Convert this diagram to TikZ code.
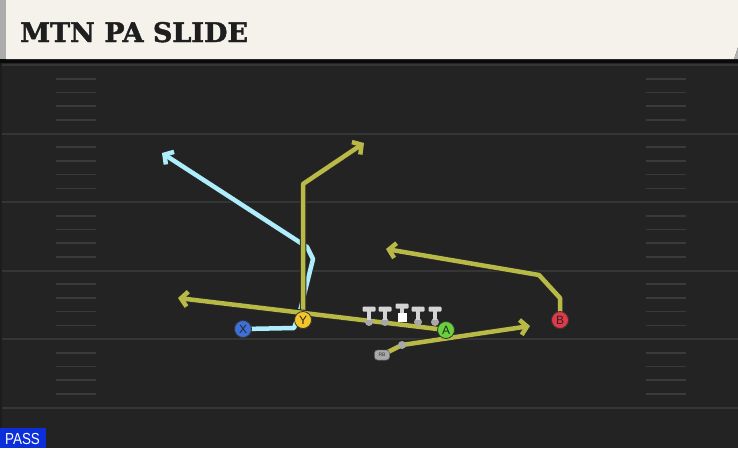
\documentclass[tikz,border=0pt]{standalone}
\usepackage{fontspec}
\setmainfont{Liberation Sans}
\newfontfamily\titlefont{DejaVu Serif}[BoldFeatures={FakeBold=1.6}]
\usetikzlibrary{arrows.meta}
\definecolor{field}{HTML}{232323}
\definecolor{yardline}{HTML}{353535}
\definecolor{hashc}{HTML}{3A3A3A}
\definecolor{header}{HTML}{F4F2EB}
\definecolor{titlec}{HTML}{1E1E1E}
\definecolor{olivec}{HTML}{B8B946}
\definecolor{bluec}{HTML}{AEEDFB}
\definecolor{xblue}{HTML}{3D70D8}
\definecolor{yyellow}{HTML}{F4C52A}
\definecolor{agreen}{HTML}{68D23C}
\definecolor{bred}{HTML}{E0394A}
\definecolor{linec}{HTML}{D4D4D4}
\definecolor{dotc}{HTML}{A8A8A8}
\definecolor{passblue}{HTML}{0B2FD9}
\begin{document}
\begin{tikzpicture}[x=1pt,y=-1pt,
  routeout/.style={draw=black!85, line width=6.5pt, line join=round},
  oliveroute/.style={draw=olivec, line width=4.5pt, line join=round},
  blueroute/.style={draw=bluec, line width=4.5pt, line join=round},
  tipout/.style={-{Straight Barb[length=6.5pt,width=15pt]}},
  player/.style={circle, draw=black!80, line width=0.8pt, minimum size=17pt, inner sep=0pt, font=\fontsize{12}{12}\selectfont, text=black!85},
  rbshape/.style={draw=black!70, fill=dotc, rounded corners=3pt, minimum width=15pt, minimum height=10pt, inner sep=0pt, font=\fontsize{5}{5}\selectfont, text=black!80},
  yard/.style={draw=yardline, line width=2pt},
  hashmark/.style={draw=hashc, line width=1.6pt}]
\useasboundingbox (0,0) rectangle (738,448);
\fill[field] (0,0) rectangle (738,448);
\fill[black!20!field] (0,0) rectangle (2,448);
% yard lines
\foreach \y in {65,133.5,202,270.5,339,407.5}
  \draw[yard] (2,\y) -- (738,\y);
% hash marks
\foreach \y in {65,133.5,202,270.5,339}
  \foreach \k in {1,2,3,4} {
    \draw[hashmark] (56,\y+13.7*\k) -- (96,\y+13.7*\k);
    \draw[hashmark] (646,\y+13.7*\k) -- (686,\y+13.7*\k);
  }
% header
\fill[black!70!field] (0,59) rectangle (738,63);
\fill[header] (6,0) -- (738,0) -- (738,47) -- (734,59) -- (6,59) -- cycle;
\fill[gray!60] (734,59) -- (738,47) -- (738,59) -- cycle;
\fill[gray!65] (0,0) rectangle (6,59);
\node[anchor=base west, inner sep=0pt, text=titlec, font=\titlefont\bfseries\fontsize{27}{27}\selectfont] (title) at (20,42) {MTN PA SLIDE};
% players
\node[player, fill=xblue] (X) at (243,329) {X};
\node[player, fill=yyellow] (Y) at (303,320) {Y};
\node[player, fill=agreen] (A) at (446,330) {A};
\node[player, fill=bred] (B) at (560,320) {B};
\node[rbshape] (RB) at (382,355) {RB};
% route coordinates
\coordinate (x1) at (294,328);
\coordinate (x2) at (299,315);
\coordinate (x3) at (313,259);
\coordinate (x4) at (307,247);
\coordinate (xt) at (162,153);
\coordinate (y1) at (303,184);
\coordinate (yt) at (364,143);
\coordinate (at) at (178,298);
\coordinate (r1) at (402,345);
\coordinate (rt) at (530,326);
\coordinate (b1) at (560,298);
\coordinate (b2) at (539,275);
\coordinate (bt) at (386,249);
% routes
\draw[routeout, tipout] (X.center) -- (x1) -- (x2) -- (x3) -- (x4) -- (xt);
\draw[blueroute, tipout] (X.center) -- (x1) -- (x2) -- (x3) -- (x4) -- (xt);
\draw[routeout, tipout] (Y.center) -- (y1) -- (yt);
\draw[oliveroute, tipout] (Y.center) -- (y1) -- (yt);
\draw[routeout, tipout] (A.center) -- (at);
\draw[oliveroute, tipout] (A.center) -- (at);
\draw[routeout, tipout] (RB.center) -- (r1) -- (rt);
\draw[oliveroute, tipout] (RB.center) -- (r1) -- (rt);
\draw[routeout, tipout] (B.center) -- (b1) -- (b2) -- (bt);
\draw[oliveroute, tipout] (B.center) -- (b1) -- (b2) -- (bt);
\fill[dotc] (r1) circle (4);
% linemen
\foreach \x in {369,385,418,435} {
  \fill[dotc] (\x,322) circle (4);
  \fill[linec, rounded corners=1pt] (\x-6.5,306.5) rectangle (\x+6.5,311.5);
  \fill[linec] (\x-2.2,310) rectangle (\x+2.2,320);
}
\fill[linec, rounded corners=1pt] (395.5,303.5) rectangle (408.5,308.5);
\fill[linec] (399.8,307) rectangle (404.2,313);
\fill[white] (397.5,313) rectangle (406.5,322);
% players on top of routes
\node[player, fill=xblue] at (X) {X};
\node[player, fill=yyellow] at (Y) {Y};
\node[player, fill=agreen] at (A) {A};
\node[player, fill=bred] at (B) {B};
\node[rbshape] at (RB) {RB};
% pass label
\fill[passblue] (0,428) rectangle (46,448);
\node[text=white, inner sep=0pt, font=\fontsize{16}{16}\selectfont] (pass) at (22.5,439) {\scalebox{0.84}[1]{PASS}};
\end{tikzpicture}
\end{document}
